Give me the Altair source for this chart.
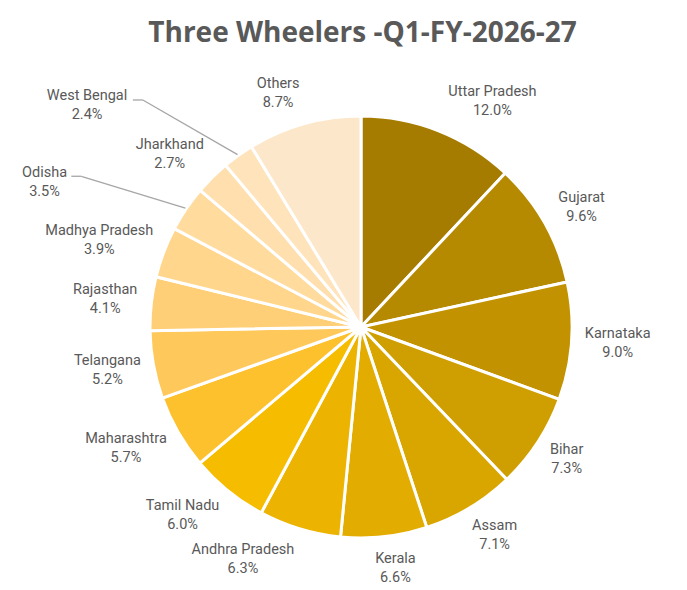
import math
import altair as alt
import pandas as pd

# ---- data ----
states = ["Uttar Pradesh", "Gujarat", "Karnataka", "Bihar", "Assam", "Kerala",
          "Andhra Pradesh", "Tamil Nadu", "Maharashtra", "Telangana", "Rajasthan",
          "Madhya Pradesh", "Odisha", "Jharkhand", "West Bengal", "Others"]
shares = [12.0, 9.6, 9.0, 7.3, 7.1, 6.6, 6.3, 6.0, 5.7, 5.2, 4.1, 3.9, 3.5, 2.7, 2.4, 8.7]
colors = ["#A67C00", "#B68A00", "#C29200", "#CF9E00", "#D9A600", "#E2AC00",
          "#ECB300", "#F6BD00", "#FDC12E", "#FFC85A", "#FFCF78", "#FFD68C",
          "#FFDB9E", "#FFDFAD", "#FFE3BA", "#FDE7CA"]

df = pd.DataFrame({"state": states, "share": shares, "order": list(range(len(states)))})

# ---- layout / style ----
CX, CY = 353, 279          # pie centre inside the plot area
R = 211                    # pie radius
GAP_R = 223                # where outside labels start
TXT = "#595959"
FONT = "Roboto"
FS = 14.5
LH = 19
leader = {"West Bengal": (352, -15.5), "Odisha": (348, -9.5)}  # label radius, angle shift (deg)

is_leader = " || ".join(f"datum.state == '{k}'" for k in leader)
lr_expr = "".join(f"datum.state == '{k}' ? {v[0]} : " for k, v in leader.items()) + "0"
ls_expr = "".join(f"datum.state == '{k}' ? {v[1]} : " for k, v in leader.items()) + "0"

base = (
    alt.Chart(df)
    .transform_window(cum="sum(share)", sort=[alt.SortField("order")], frame=[None, 0])
    .transform_joinaggregate(total="sum(share)")
    .transform_calculate(
        start_f="(datum.cum - datum.share) / datum.total",
        end_f="datum.cum / datum.total",
        mid_f="(datum.cum - datum.share / 2) / datum.total",
        label="datum.state + '\\n' + format(datum.share, '.1f') + '%'",
        leader=f"({is_leader}) ? 1 : 0",
    )
    .transform_calculate(
        mid_a="datum.mid_f * 2 * PI",
        lab_a=f"datum.mid_f * 2 * PI + ({ls_expr}) * PI / 180",
        lab_r=lr_expr,
        hw="length(datum.state) * 3.8",
    )
)

theta_scale = alt.Scale(domain=[0, 1], range=[0, 2 * math.pi])

arcs = base.mark_arc(outerRadius=R, stroke="white", strokeWidth=3).encode(
    theta=alt.Theta("start_f:Q", scale=theta_scale),
    theta2="end_f:Q",
    color=alt.Color("state:N", scale=alt.Scale(domain=states, range=colors), legend=None),
    x=alt.value(CX),
    y=alt.value(CY),
)

labels = base.transform_filter("datum.leader == 0").transform_calculate(
    lx=f"{CX} + {GAP_R} * sin(datum.mid_a) + datum.hw * clamp(4 * sin(datum.mid_a), -1, 1)",
    ly=f"{CY} - {GAP_R} * cos(datum.mid_a) - 20 * cos(datum.mid_a)",
).mark_text(
    font=FONT, fontSize=FS, color=TXT, lineBreak="\n", lineHeight=LH,
    align="center", baseline="middle", dy=-LH / 2,
).encode(
    x=alt.X("lx:Q", scale=None),
    y=alt.Y("ly:Q", scale=None),
    text="label:N",
)

lead = base.transform_filter("datum.leader == 1").transform_calculate(
    lx=f"{CX} + datum.lab_r * sin(datum.lab_a)",
    ly=f"{CY} - datum.lab_r * cos(datum.lab_a)",
    px=f"{CX} + {R + 1} * sin(datum.mid_a)",
    py=f"{CY} - {R + 1} * cos(datum.mid_a)",
).transform_calculate(
    hx1="datum.lx + datum.hw + 4",
    hx2="datum.lx + datum.hw + 14",
    hy="datum.ly - 6",
)

lead_text = lead.mark_text(
    font=FONT, fontSize=FS, color=TXT, lineBreak="\n", lineHeight=LH,
    align="center", baseline="middle", dy=-LH / 2,
).encode(
    x=alt.X("lx:Q", scale=None),
    y=alt.Y("ly:Q", scale=None),
    text="label:N",
)

lead_h = lead.mark_rule(color="#A6A6A6", strokeWidth=1.3).encode(
    x=alt.X("hx1:Q", scale=None), x2="hx2:Q",
    y=alt.Y("hy:Q", scale=None), y2="hy:Q",
)
lead_d = lead.mark_rule(color="#A6A6A6", strokeWidth=1.3).encode(
    x=alt.X("hx2:Q", scale=None), x2="px:Q",
    y=alt.Y("hy:Q", scale=None), y2="py:Q",
)

chart = (
    alt.layer(arcs, labels, lead_h, lead_d, lead_text)
    .properties(
        width=671,
        height=542,
        autosize=alt.AutoSizeParams(type="none"),
        padding={"left": 0, "top": 40, "right": 0, "bottom": 0},
        title=alt.TitleParams(
            "Three Wheelers -Q1-FY-2026-27", font="Open Sans", fontSize=28,
            fontWeight="bold", color=TXT, anchor="middle", dx=19, offset=0,
        ),
    )
    .configure_view(stroke=None)
)

chart.save("out.html", embed_options={"renderer": "svg", "actions": False})
